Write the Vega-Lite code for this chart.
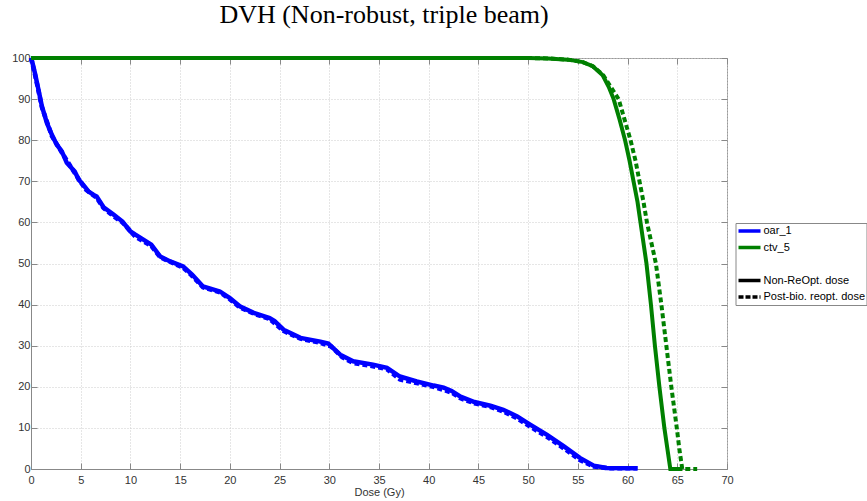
{
  "$schema": "https://vega.github.io/schema/vega-lite/v6.json",
  "width": 696,
  "height": 411,
  "autosize": {"type": "none"},
  "padding": {"left": 31, "top": 58, "right": 140, "bottom": 32},
  "background": "white",
  "title": {
    "text": "DVH (Non-robust, triple beam)",
    "font": "Liberation Serif",
    "fontSize": 26,
    "fontWeight": "normal",
    "color": "#000000",
    "anchor": "middle",
    "frame": "group",
    "baseline": "alphabetic",
    "offset": 0.5,
    "dx": 5
  },
  "config": {
    "view": {"stroke": "#999999", "strokeWidth": 1},
    "axis": {
      "domainColor": "#888888",
      "tickColor": "#888888",
      "gridColor": "#cccccc",
      "gridDash": [1, 2],
      "gridWidth": 1,
      "labelColor": "#333333",
      "labelFont": "Liberation Sans",
      "labelFontSize": 11,
      "titleFont": "Liberation Sans",
      "titleFontSize": 11,
      "titleFontWeight": "normal",
      "titleColor": "#333333"
    }
  },
  "datasets": {
    "oar_non": [
      {"dose": 0, "volume": 100}, {"dose": 0.1, "volume": 99.3}, {"dose": 0.4, "volume": 96.3}, {"dose": 0.75, "volume": 92.3},
      {"dose": 1.1, "volume": 88.2}, {"dose": 1.6, "volume": 84.2}, {"dose": 2.1, "volume": 81.3}, {"dose": 2.6, "volume": 78.9},
      {"dose": 3.1, "volume": 77.3}, {"dose": 3.6, "volume": 74.5}, {"dose": 4.4, "volume": 72.4}, {"dose": 4.8, "volume": 70.4},
      {"dose": 5.1, "volume": 69.6}, {"dose": 5.5, "volume": 68.4}, {"dose": 5.8, "volume": 67.5}, {"dose": 6.3, "volume": 66.7},
      {"dose": 6.6, "volume": 66.3}, {"dose": 7.3, "volume": 63.7}, {"dose": 8.3, "volume": 61.9}, {"dose": 9.2, "volume": 60.2},
      {"dose": 10.0, "volume": 57.8}, {"dose": 10.5, "volume": 57.0}, {"dose": 11.3, "volume": 55.8}, {"dose": 12.1, "volume": 54.6},
      {"dose": 13.0, "volume": 51.7}, {"dose": 14.0, "volume": 50.5}, {"dose": 15.3, "volume": 49.3}, {"dose": 16.2, "volume": 47.3},
      {"dose": 17.3, "volume": 44.4}, {"dose": 19.0, "volume": 43.2}, {"dose": 20.0, "volume": 41.6}, {"dose": 21.0, "volume": 39.6},
      {"dose": 22.4, "volume": 38.0}, {"dose": 24.0, "volume": 36.7}, {"dose": 24.5, "volume": 36.0}, {"dose": 25.4, "volume": 33.9},
      {"dose": 27.1, "volume": 31.9}, {"dose": 29.1, "volume": 31.0}, {"dose": 29.9, "volume": 30.5}, {"dose": 31.1, "volume": 27.8},
      {"dose": 32.4, "volume": 26.2}, {"dose": 34.4, "volume": 25.4}, {"dose": 35.8, "volume": 24.6}, {"dose": 37.1, "volume": 22.5},
      {"dose": 38.8, "volume": 21.3}, {"dose": 40.5, "volume": 20.3}, {"dose": 41.5, "volume": 19.8}, {"dose": 42.3, "volume": 19.0},
      {"dose": 43.2, "volume": 17.6}, {"dose": 44.6, "volume": 16.3}, {"dose": 46.2, "volume": 15.4}, {"dose": 47.5, "volume": 14.4},
      {"dose": 48.9, "volume": 12.8}, {"dose": 50.2, "volume": 10.8}, {"dose": 51.9, "volume": 8.3}, {"dose": 53.6, "volume": 5.5},
      {"dose": 55.2, "volume": 2.7}, {"dose": 56.6, "volume": 0.8}, {"dose": 57.9, "volume": 0.25}, {"dose": 61.0, "volume": 0.2}
    ],
    "oar_post": [
      {"dose": 0, "volume": 100}, {"dose": 0.4, "volume": 96.0}, {"dose": 1.1, "volume": 88.0}, {"dose": 2.1, "volume": 81.0},
      {"dose": 3.1, "volume": 77.0}, {"dose": 4.4, "volume": 72.0}, {"dose": 5.5, "volume": 68.0}, {"dose": 6.6, "volume": 66.0},
      {"dose": 7.3, "volume": 63.5}, {"dose": 8.3, "volume": 61.5}, {"dose": 9.2, "volume": 60.0}, {"dose": 10.5, "volume": 56.5},
      {"dose": 12.1, "volume": 54.3}, {"dose": 13.0, "volume": 51.5}, {"dose": 15.3, "volume": 49.0}, {"dose": 16.2, "volume": 47.0},
      {"dose": 17.3, "volume": 44.2}, {"dose": 19.0, "volume": 43.0}, {"dose": 20.0, "volume": 41.3}, {"dose": 21.0, "volume": 39.3},
      {"dose": 22.4, "volume": 37.8}, {"dose": 24.0, "volume": 36.5}, {"dose": 25.4, "volume": 33.6}, {"dose": 27.1, "volume": 31.7},
      {"dose": 29.1, "volume": 30.7}, {"dose": 30.2, "volume": 29.8}, {"dose": 31.3, "volume": 27.2}, {"dose": 32.4, "volume": 25.8},
      {"dose": 34.4, "volume": 25.0}, {"dose": 35.8, "volume": 24.3}, {"dose": 37.1, "volume": 21.8}, {"dose": 38.8, "volume": 20.9},
      {"dose": 40.5, "volume": 20.0}, {"dose": 42.3, "volume": 18.6}, {"dose": 43.2, "volume": 17.2}, {"dose": 44.6, "volume": 16.0},
      {"dose": 46.2, "volume": 15.1}, {"dose": 47.5, "volume": 14.0}, {"dose": 48.9, "volume": 12.3}, {"dose": 50.2, "volume": 10.3},
      {"dose": 51.9, "volume": 7.8}, {"dose": 53.6, "volume": 5.0}, {"dose": 55.2, "volume": 2.2}, {"dose": 56.6, "volume": 0.6},
      {"dose": 58.0, "volume": 0.2}, {"dose": 61.0, "volume": 0.2}
    ],
    "ctv_non": [
      {"dose": 0, "volume": 100}, {"dose": 50, "volume": 100}, {"dose": 52, "volume": 99.9}, {"dose": 54, "volume": 99.6},
      {"dose": 55.5, "volume": 99.0}, {"dose": 56.5, "volume": 98.0}, {"dose": 57.5, "volume": 95.8}, {"dose": 58.1, "volume": 93.0},
      {"dose": 58.6, "volume": 90.0}, {"dose": 59.2, "volume": 85.0}, {"dose": 59.75, "volume": 80.0}, {"dose": 60.2, "volume": 75.0},
      {"dose": 60.6, "volume": 70.0}, {"dose": 61.0, "volume": 65.0}, {"dose": 61.3, "volume": 60.0}, {"dose": 61.6, "volume": 55.0},
      {"dose": 61.9, "volume": 50.0}, {"dose": 62.35, "volume": 40.0}, {"dose": 62.75, "volume": 30.0}, {"dose": 63.2, "volume": 20.0},
      {"dose": 63.7, "volume": 10.0}, {"dose": 64.0, "volume": 5.0}, {"dose": 64.3, "volume": 0.0}, {"dose": 65.5, "volume": 0.0}
    ],
    "ctv_post": [
      {"dose": 0, "volume": 100}, {"dose": 50, "volume": 100}, {"dose": 52, "volume": 99.9}, {"dose": 54, "volume": 99.6},
      {"dose": 55.5, "volume": 99.0}, {"dose": 56.5, "volume": 98.0}, {"dose": 57.5, "volume": 96.0}, {"dose": 58.3, "volume": 93.0},
      {"dose": 59.1, "volume": 90.0}, {"dose": 59.7, "volume": 85.0}, {"dose": 60.3, "volume": 80.0}, {"dose": 60.8, "volume": 75.0},
      {"dose": 61.2, "volume": 70.0}, {"dose": 61.6, "volume": 65.0}, {"dose": 61.95, "volume": 60.0}, {"dose": 62.4, "volume": 55.0},
      {"dose": 62.85, "volume": 50.0}, {"dose": 63.4, "volume": 40.0}, {"dose": 63.9, "volume": 30.0}, {"dose": 64.4, "volume": 20.0},
      {"dose": 64.95, "volume": 10.0}, {"dose": 65.2, "volume": 5.0}, {"dose": 65.5, "volume": 0.0}, {"dose": 67.0, "volume": 0.0}
    ]
  },
  "layer": [
    {
      "data": {"name": "oar_non"},
      "mark": {"type": "line", "color": "#0000ff", "strokeWidth": 4.5},
      "encoding": {
        "x": {"field": "dose", "type": "quantitative", "scale": {"domain": [0, 70], "nice": false},
          "axis": {"orient": "bottom", "title": "Dose (Gy)", "values": [0,5,10,15,20,25,30,35,40,45,50,55,60,65,70], "tickSize": -6, "labelPadding": 11, "titlePadding": 1, "labelFlush": false}},
        "y": {"field": "volume", "type": "quantitative", "scale": {"domain": [0, 100], "nice": false},
          "axis": {"orient": "left", "title": null, "values": [0,10,20,30,40,50,60,70,80,90,100], "tickSize": -6, "labelPadding": 7, "labelFlush": false}}
      }
    },
    {
      "data": {"name": "oar_post"},
      "mark": {"type": "line", "color": "#0000ff", "strokeWidth": 4.5, "strokeDash": [5, 3]},
      "encoding": {
        "x": {"field": "dose", "type": "quantitative", "scale": {"domain": [0, 70], "nice": false}, "axis": null},
        "y": {"field": "volume", "type": "quantitative", "scale": {"domain": [0, 100], "nice": false}, "axis": null}
      }
    },
    {
      "data": {"name": "ctv_non"},
      "mark": {"type": "line", "color": "#008000", "strokeWidth": 4},
      "encoding": {
        "x": {"field": "dose", "type": "quantitative", "scale": {"domain": [0, 70], "nice": false}, "axis": null},
        "y": {"field": "volume", "type": "quantitative", "scale": {"domain": [0, 100], "nice": false}, "axis": null}
      }
    },
    {
      "data": {"name": "ctv_post"},
      "mark": {"type": "line", "color": "#008000", "strokeWidth": 4, "strokeDash": [5, 3]},
      "encoding": {
        "x": {"field": "dose", "type": "quantitative", "scale": {"domain": [0, 70], "nice": false}, "axis": null},
        "y": {"field": "volume", "type": "quantitative", "scale": {"domain": [0, 100], "nice": false}, "axis": null}
      }
    },
    {
      "data": {"values": []},
      "mark": {"type": "line", "strokeWidth": 3.5},
      "encoding": {
        "x": {"field": "dose", "type": "quantitative", "scale": {"domain": [0, 70], "nice": false},
          "axis": {"orient": "top", "title": null, "labels": false, "grid": false, "domain": false, "tickSize": -6, "values": [0,5,10,15,20,25,30,35,40,45,50,55,60,65,70]}},
        "y": {"field": "volume", "type": "quantitative", "scale": {"domain": [0, 100], "nice": false},
          "axis": {"orient": "right", "title": null, "labels": false, "grid": false, "domain": false, "tickSize": -6, "values": [0,10,20,30,40,50,60,70,80,90,100]}},
        "color": {"field": "label", "type": "nominal",
          "scale": {"domain": ["oar_1", "ctv_5", " ", "Non-ReOpt. dose", "Post-bio. reopt. dose"], "range": ["#0000ff", "#008000", "#ffffff", "#000000", "#000000"]},
          "legend": {"orient": "none", "legendX": 704.5, "legendY": 165, "title": null, "strokeColor": "#888888", "fillColor": "#ffffff", "padding": 1, "clipHeight": 14, "rowPadding": 2.5, "symbolSize": 484, "symbolStrokeWidth": 3.5, "symbolType": "stroke", "labelFontSize": 11, "labelFont": "Liberation Sans", "labelColor": "#000000", "labelOffset": 1, "labelLimit": 300}},
        "strokeDash": {"field": "label", "type": "nominal",
          "scale": {"domain": ["oar_1", "ctv_5", " ", "Non-ReOpt. dose", "Post-bio. reopt. dose"], "range": [[1, 0], [1, 0], [1, 0], [1, 0], [5, 2]]},
          "legend": {"orient": "none", "legendX": 704.5, "legendY": 165, "title": null, "strokeColor": "#888888", "fillColor": "#ffffff", "padding": 1, "clipHeight": 14, "rowPadding": 2.5, "symbolSize": 484, "symbolStrokeWidth": 3.5, "symbolType": "stroke", "labelFontSize": 11, "labelFont": "Liberation Sans", "labelColor": "#000000", "labelOffset": 1, "labelLimit": 300}}
      }
    }
  ],
  "resolve": {"axis": {"x": "independent", "y": "independent"}}
}
